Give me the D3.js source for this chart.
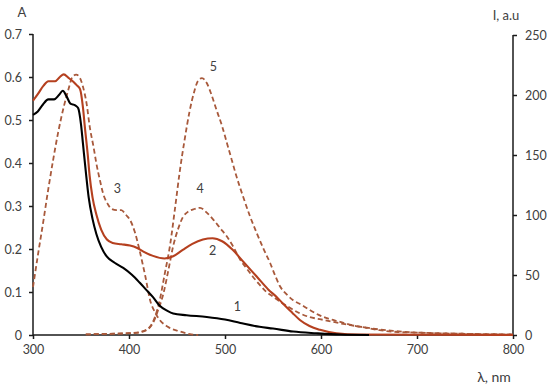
<!DOCTYPE html>
<html>
<head>
<meta charset="utf-8">
<script src="https://cdn.jsdelivr.net/npm/d3@7"></script>
<style>
  html, body { margin: 0; padding: 0; background: #fff; }
  svg text { font-family: Lato, "Open Sans", sans-serif; fill: #404040; }
</style>
</head>
<body>
<svg id="chart" width="550" height="390"></svg>
<script>
/* absorption (A, left axis) + fluorescence (I, right axis) */

const X_TICKS = [300, 400, 500, 600, 700, 800];
const A_TICKS = [0, 0.1, 0.2, 0.3, 0.4, 0.5, 0.6, 0.7];
const I_TICKS = [0, 50, 100, 150, 200, 250];

// [lambda, A]
const curve1 = [[300,0.512],[305,0.52],[310,0.535],[316,0.548],[322,0.548],[327,0.558],[331,0.568],[335,0.555],[339,0.538],[344,0.534],[347,0.528],[350,0.49],[352,0.446],[355,0.38],[358,0.32],[362,0.27],[366,0.235],[371,0.205],[377,0.182],[385,0.168],[394,0.156],[403,0.14],[411,0.122],[418,0.105],[425,0.088],[432,0.068],[440,0.056],[446,0.05],[460,0.046],[481,0.042],[500,0.036],[516,0.028],[536,0.019],[550,0.015],[571,0.008],[595,0.004],[620,0.001],[650,0]];
const curve2 = [[300,0.545],[305,0.56],[311,0.58],[316,0.59],[323,0.59],[328,0.6],[332,0.606],[337,0.598],[342,0.589],[346,0.58],[349,0.572],[352,0.53],[354,0.484],[357,0.42],[359,0.37],[362,0.32],[366,0.28],[371,0.245],[377,0.222],[383,0.214],[392,0.211],[401,0.208],[408,0.203],[415,0.194],[425,0.184],[437,0.178],[446,0.183],[456,0.198],[466,0.212],[477,0.222],[487,0.225],[497,0.218],[508,0.198],[520,0.168],[533,0.136],[545,0.106],[554,0.088],[560,0.074],[570,0.052],[578,0.035],[588,0.021],[599,0.012],[616,0.004],[640,0.001],[800,0]];

// [lambda, I]
const curve3 = [[300,40],[305,66],[311,96],[316,122],[321,146],[326,168],[332,190],[337,205],[341,215],[345,217],[349,214],[352,207],[356,192],[359,174],[363,157],[366,143],[370,128],[373,118],[378,109],[382,105],[387,104],[392,104],[397,100],[401,96],[406,86],[410,74],[414,60],[417,49],[422,29],[427,19],[432,12.5],[440,7],[453,3],[465,0.5],[472,0]];
const curve4 = [[355,0.5],[380,1],[400,1.5],[410,2],[415,3],[420,5],[425,10],[430,20],[436,35],[441,54],[446,74],[451,88],[456,98],[462,103],[468,105],[474,106],[481,102],[488,96],[495,89],[502,82],[509,73],[516,62.5],[523,55],[529,48.6],[536,42],[543,36],[550,32],[557,28],[568,22.5],[578,18],[588,15],[600,13],[612,11],[625,9],[640,7],[657,5],[675,3.5],[700,2],[750,1],[800,0.5]];
const curve5 = [[355,0.5],[380,1],[400,1.5],[412,2.5],[417,4],[422,7],[427,15],[432,29],[437,50],[443,76],[448,106],[453,137],[458,163],[463,186],[468,203],[472,212],[476,214],[481,210],[486,200],[491,188],[497,174],[502,160],[507,146],[512,132],[519,115],[526,99],[533,85],[540,72],[547,60],[552,50],[557,41],[564,34],[571,29],[580,25],[588,21],[597,17],[606,14],[620,11],[633,8],[647,6],[661,4],[680,2.5],[700,2],[750,1],[800,0.5]];

const LABELS = [
  { t: "1", l: 513, a: 0.055 },
  { t: "2", l: 487, a: 0.187 },
  { t: "3", l: 388, a: 0.33 },
  { t: "4", l: 474, a: 0.33 },
  { t: "5", l: 488, a: 0.615 },
];

const RED = "#b5401f";
const DASH = "#a8593b";
const FONT = "Lato, 'Open Sans', sans-serif";

const svg = d3.select("#chart");

const x = d3.scaleLinear().domain([300, 800]).range([33, 513]);
const yA = d3.scaleLinear().domain([0, 0.7]).range([335, 34]);
const yI = d3.scaleLinear().domain([0, 250]).range([335, 35]);

/* ---------- axes ---------- */
const fmtA = d => (d === 0 ? "0" : d3.format(".1f")(d));

const gLeft = svg.append("g").attr("transform", `translate(${x(300)},0)`)
  .call(d3.axisLeft(yA).tickValues(A_TICKS).tickFormat(fmtA).tickSize(4).tickPadding(7));
const gRight = svg.append("g").attr("transform", `translate(${x(800)},0)`)
  .call(d3.axisRight(yI).tickValues(I_TICKS).tickSize(4).tickPadding(8));
const gBottom = svg.append("g").attr("transform", `translate(0,${yA(0)})`)
  .call(d3.axisBottom(x).tickValues(X_TICKS).tickSize(4).tickPadding(6));

for (const g of [gLeft, gRight, gBottom]) {
  g.select(".domain").attr("stroke", "#1a1a1a").attr("stroke-width", 1.5);
  g.selectAll(".tick line").attr("stroke", "#1a1a1a").attr("stroke-width", 1.5);
  g.selectAll(".tick text").attr("font-size", 12.5).attr("fill", "#404040")
    .style("font-family", FONT);
}
// axes: plain lines, no end caps
gLeft.select(".domain").attr("d", `M0,${yA(0.7)}V${yA(0)}`);
gRight.select(".domain").attr("d", `M0,${yI(250)}V${yI(0)}`);
gBottom.select(".domain").attr("d", `M${x(300)},0H${x(800)}`);

/* ---------- curves ---------- */
const lineA = d3.line().x(d => x(d[0])).y(d => yA(d[1])).curve(d3.curveMonotoneX);
const lineI = d3.line().x(d => x(d[0])).y(d => yI(d[1])).curve(d3.curveMonotoneX);

const gLines = svg.append("g");
for (const c of [curve3, curve4, curve5]) {
  gLines.append("path").attr("d", lineI(c))
    .attr("fill", "none").attr("stroke", DASH).attr("stroke-width", 1.8)
    .attr("stroke-dasharray", "5,3");
}
gLines.append("path").attr("d", lineA(curve2))
  .attr("fill", "none").attr("stroke", RED).attr("stroke-width", 2.1);
gLines.append("path").attr("d", lineA(curve1))
  .attr("fill", "none").attr("stroke", "#000").attr("stroke-width", 2.1);

/* ---------- labels ---------- */
svg.append("g").selectAll("text").data(LABELS).join("text")
  .attr("x", d => x(d.l)).attr("y", d => yA(d.a))
  .attr("text-anchor", "middle").attr("font-size", 12.5)
  .text(d => d.t);

svg.append("text").attr("x", 22).attr("y", 17).attr("text-anchor", "middle")
  .attr("font-size", 13).text("A");
svg.append("text").attr("x", 506).attr("y", 20).attr("text-anchor", "middle")
  .attr("font-size", 13).text("I, a.u");
svg.append("text").attr("x", 494).attr("y", 382).attr("text-anchor", "middle")
  .attr("font-size", 14).text("λ, nm");
</script>
</body>
</html>
